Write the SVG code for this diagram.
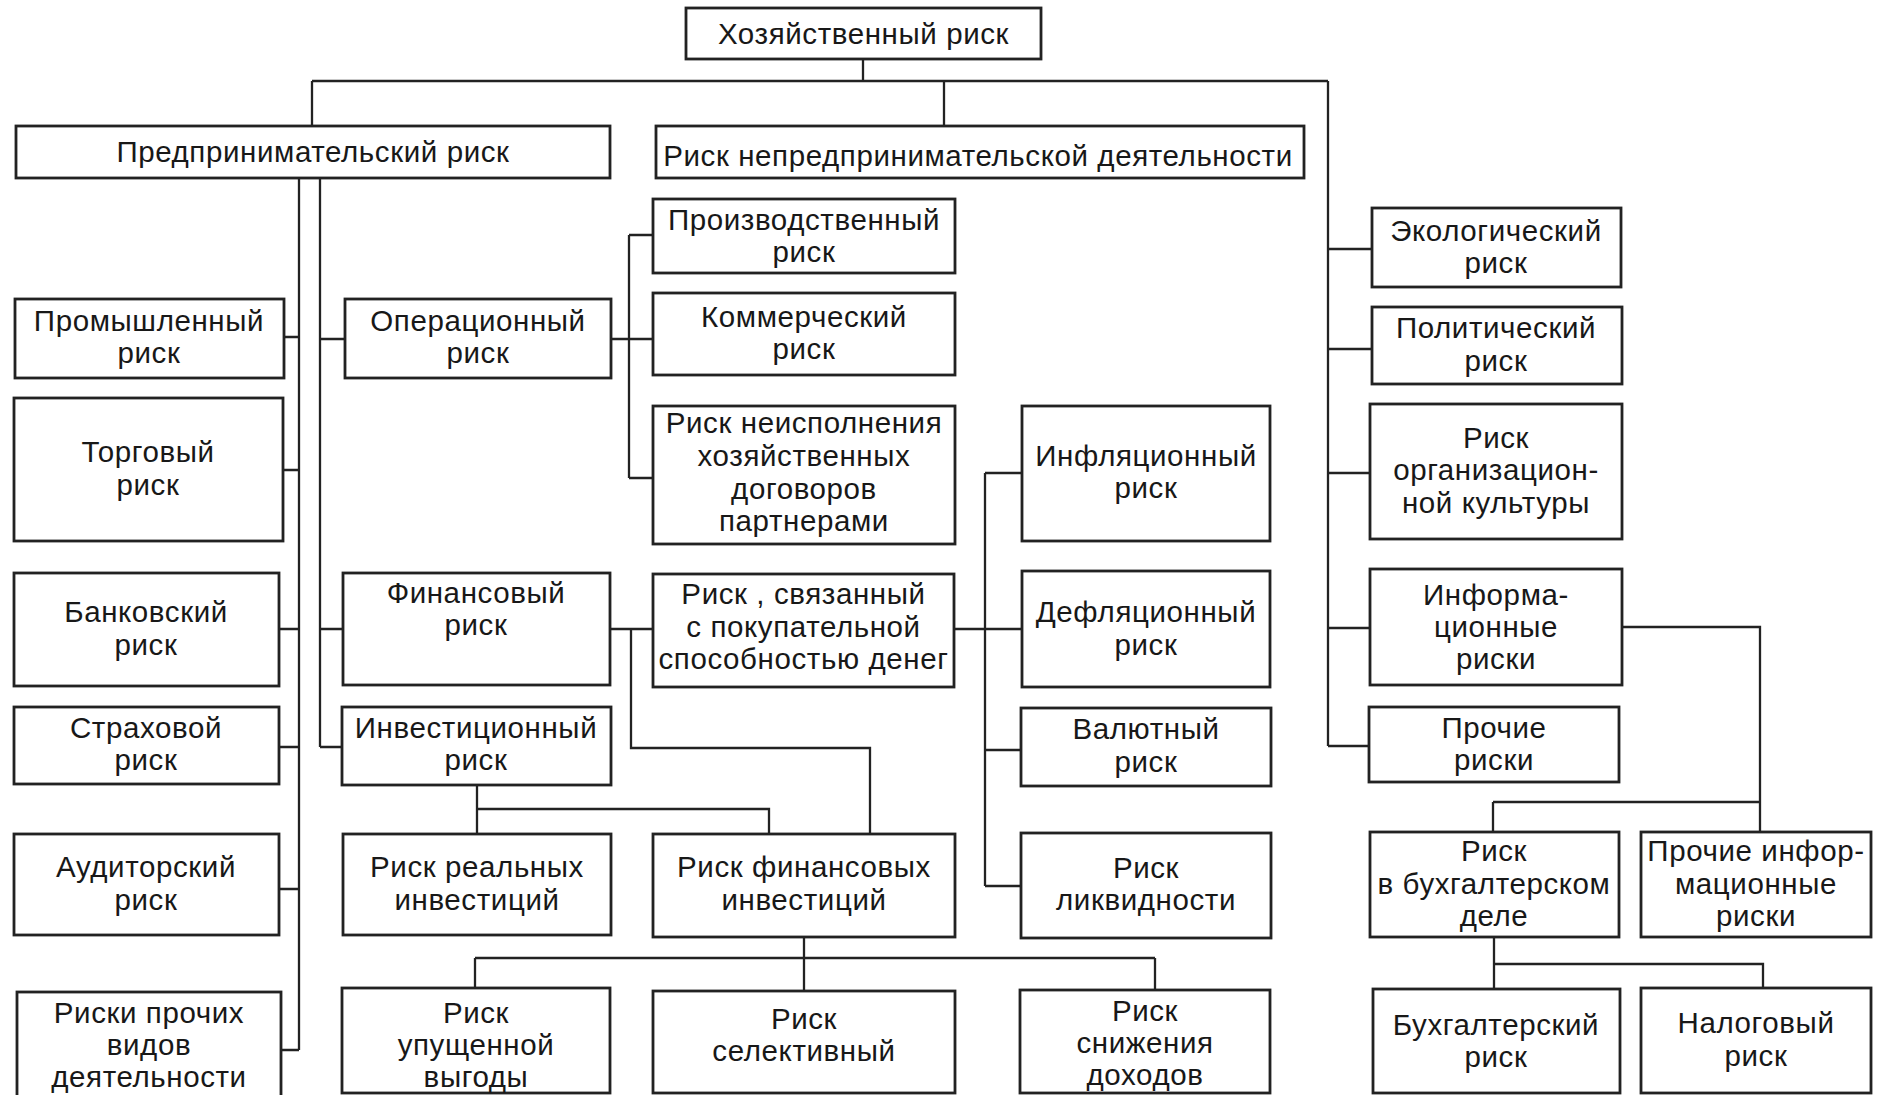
<svg xmlns="http://www.w3.org/2000/svg" width="1878" height="1095" viewBox="0 0 1878 1095">
<style>
.b{fill:#fff;stroke:#222;stroke-width:2.8}
.t{font-family:"Liberation Sans",Arial,sans-serif;font-size:29.5px;letter-spacing:0.6px;fill:#181818;text-anchor:middle;dominant-baseline:central}
.c{fill:none;stroke:#222;stroke-width:2.3}
</style>
<rect width="1878" height="1095" fill="#fff"/>
<g id="connectors">
<path class="c" d="M863,59 V81 M312,81 H1328 M312,81 V126 M944,81 V126 M1328,81 V746"/>
<path class="c" d="M1328,249 H1372 M1328,349 H1372 M1328,473 H1370 M1328,628 H1370 M1328,746 H1369"/>
<path class="c" d="M299,178 V1050 M320,178 V747"/>
<path class="c" d="M284,337 H299 M283,470 H299 M279,629 H299 M279,747 H299 M279,889 H299 M281,1050 H299"/>
<path class="c" d="M320,339 H345 M320,629 H343 M320,747 H342"/>
<path class="c" d="M611,339 H653 M629,235 V478 M629,235 H653 M629,478 H653"/>
<path class="c" d="M610,629 H653 M631,629 V748 H870 V834"/>
<path class="c" d="M477,785 V834 M477,809 H769 V834"/>
<path class="c" d="M804,937 V991 M475,958 H1155 M475,958 V988 M1155,958 V990"/>
<path class="c" d="M954,629 H1022 M985,473 V886 M985,473 H1022 M985,750 H1021 M985,886 H1021"/>
<path class="c" d="M1622,627 H1760 V832 M1493,802 H1760 M1493,802 V832"/>
<path class="c" d="M1494,937 V989 M1494,964 H1763 V988"/>
</g>
<g id="n1"><rect class="b" x="686" y="8" width="355" height="51"/><text class="t" x="863.5" y="33">Хозяйственный риск</text></g>
<g id="n2"><rect class="b" x="16" y="126" width="594" height="52"/><text class="t" x="313" y="151">Предпринимательский риск</text></g>
<g id="n3"><rect class="b" x="656" y="126" width="648" height="52"/><text class="t" x="978" y="155">Риск непредпринимательской деятельности</text></g>
<g id="n4"><rect class="b" x="15" y="299" width="269" height="79"/><text class="t" x="149" y="320">Промышленный</text><text class="t" x="149" y="352">риск</text></g>
<g id="n5"><rect class="b" x="14" y="398" width="269" height="143"/><text class="t" x="148" y="451">Торговый</text><text class="t" x="148" y="484">риск</text></g>
<g id="n6"><rect class="b" x="14" y="573" width="265" height="113"/><text class="t" x="146" y="611">Банковский</text><text class="t" x="146" y="644">риск</text></g>
<g id="n7"><rect class="b" x="14" y="707" width="265" height="77"/><text class="t" x="146" y="727">Страховой</text><text class="t" x="146" y="759">риск</text></g>
<g id="n8"><rect class="b" x="14" y="834" width="265" height="101"/><text class="t" x="146" y="866">Аудиторский</text><text class="t" x="146" y="899">риск</text></g>
<g id="n9"><rect class="b" x="17" y="992" width="264" height="112"/><text class="t" x="149" y="1012">Риски прочих</text><text class="t" x="149" y="1044">видов</text><text class="t" x="149" y="1076">деятельности</text></g>
<g id="n10"><rect class="b" x="345" y="299" width="266" height="79"/><text class="t" x="478" y="320">Операционный</text><text class="t" x="478" y="352">риск</text></g>
<g id="n11"><rect class="b" x="343" y="573" width="267" height="112"/><text class="t" x="476" y="592">Финансовый</text><text class="t" x="476" y="624">риск</text></g>
<g id="n12"><rect class="b" x="342" y="707" width="269" height="78"/><text class="t" x="476" y="727">Инвестиционный</text><text class="t" x="476" y="759">риск</text></g>
<g id="n13"><rect class="b" x="653" y="199" width="302" height="74"/><text class="t" x="804" y="219">Производственный</text><text class="t" x="804" y="251">риск</text></g>
<g id="n14"><rect class="b" x="653" y="293" width="302" height="82"/><text class="t" x="804" y="316">Коммерческий</text><text class="t" x="804" y="348">риск</text></g>
<g id="n15"><rect class="b" x="653" y="406" width="302" height="138"/><text class="t" x="804" y="422">Риск неисполнения</text><text class="t" x="804" y="455">хозяйственных</text><text class="t" x="804" y="488">договоров</text><text class="t" x="804" y="520">партнерами</text></g>
<g id="n16"><rect class="b" x="653" y="574" width="301" height="113"/><text class="t" x="803.5" y="593">Риск , связанный</text><text class="t" x="803.5" y="626">с покупательной</text><text class="t" x="803.5" y="658">способностью денег</text></g>
<g id="n17"><rect class="b" x="343" y="834" width="268" height="101"/><text class="t" x="477" y="866">Риск реальных</text><text class="t" x="477" y="899">инвестиций</text></g>
<g id="n18"><rect class="b" x="653" y="834" width="302" height="103"/><text class="t" x="804" y="866">Риск финансовых</text><text class="t" x="804" y="899">инвестиций</text></g>
<g id="n19"><rect class="b" x="342" y="988" width="268" height="105"/><text class="t" x="476" y="1012">Риск</text><text class="t" x="476" y="1044">упущенной</text><text class="t" x="476" y="1076">выгоды</text></g>
<g id="n20"><rect class="b" x="653" y="991" width="302" height="102"/><text class="t" x="804" y="1018">Риск</text><text class="t" x="804" y="1050">селективный</text></g>
<g id="n21"><rect class="b" x="1020" y="990" width="250" height="103"/><text class="t" x="1145" y="1010">Риск</text><text class="t" x="1145" y="1042">снижения</text><text class="t" x="1145" y="1074">доходов</text></g>
<g id="n22"><rect class="b" x="1022" y="406" width="248" height="135"/><text class="t" x="1146" y="455">Инфляционный</text><text class="t" x="1146" y="487">риск</text></g>
<g id="n23"><rect class="b" x="1022" y="571" width="248" height="116"/><text class="t" x="1146" y="611">Дефляционный</text><text class="t" x="1146" y="644">риск</text></g>
<g id="n24"><rect class="b" x="1021" y="708" width="250" height="78"/><text class="t" x="1146" y="728">Валютный</text><text class="t" x="1146" y="761">риск</text></g>
<g id="n25"><rect class="b" x="1021" y="833" width="250" height="105"/><text class="t" x="1146" y="867">Риск</text><text class="t" x="1146" y="899">ликвидности</text></g>
<g id="n26"><rect class="b" x="1372" y="208" width="249" height="79"/><text class="t" x="1496" y="230">Экологический</text><text class="t" x="1496" y="262">риск</text></g>
<g id="n27"><rect class="b" x="1372" y="307" width="250" height="77"/><text class="t" x="1496" y="327">Политический</text><text class="t" x="1496" y="360">риск</text></g>
<g id="n28"><rect class="b" x="1370" y="404" width="252" height="135"/><text class="t" x="1496" y="437">Риск</text><text class="t" x="1496" y="469">организацион-</text><text class="t" x="1496" y="502">ной культуры</text></g>
<g id="n29"><rect class="b" x="1370" y="569" width="252" height="116"/><text class="t" x="1496" y="594">Информа-</text><text class="t" x="1496" y="626">ционные</text><text class="t" x="1496" y="658">риски</text></g>
<g id="n30"><rect class="b" x="1369" y="707" width="250" height="75"/><text class="t" x="1494" y="727">Прочие</text><text class="t" x="1494" y="759">риски</text></g>
<g id="n31"><rect class="b" x="1370" y="832" width="249" height="105"/><text class="t" x="1494" y="850">Риск</text><text class="t" x="1494" y="883">в бухгалтерском</text><text class="t" x="1494" y="915">деле</text></g>
<g id="n32"><rect class="b" x="1641" y="832" width="230" height="105"/><text class="t" x="1756" y="850">Прочие инфор-</text><text class="t" x="1756" y="883">мационные</text><text class="t" x="1756" y="915">риски</text></g>
<g id="n33"><rect class="b" x="1373" y="989" width="247" height="104"/><text class="t" x="1496" y="1024">Бухгалтерский</text><text class="t" x="1496" y="1056">риск</text></g>
<g id="n34"><rect class="b" x="1641" y="988" width="230" height="105"/><text class="t" x="1756" y="1022">Налоговый</text><text class="t" x="1756" y="1055">риск</text></g>
</svg>
